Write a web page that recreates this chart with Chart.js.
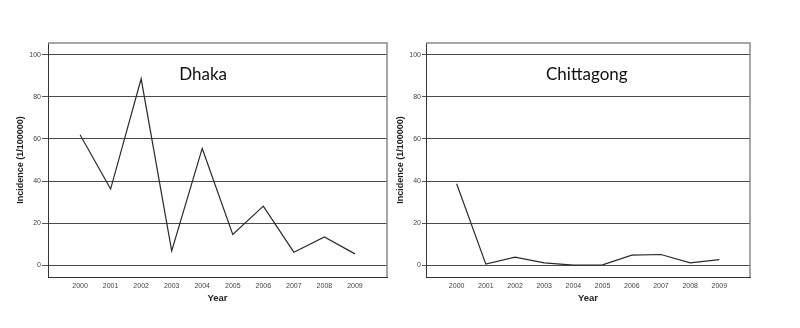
<!DOCTYPE html>
<html>
<head>
<meta charset="utf-8">
<script src="https://cdn.jsdelivr.net/npm/chart.js@4.4.1/dist/chart.umd.min.js"></script>
<style>
  body { margin: 0; background: #fff; width: 800px; height: 328px; position: relative; overflow: hidden; }
  canvas { position: absolute; top: 0; }
  #dhakaChart { left: 0; }
  #chittagongChart { left: 385px; }
</style>
</head>
<body>
<canvas id="dhakaChart" width="400" height="328"></canvas>
<canvas id="chittagongChart" width="415" height="328"></canvas>
<script>
const years = [2000, 2001, 2002, 2003, 2004, 2005, 2006, 2007, 2008, 2009];
const dhaka = [62, 36.2, 88.6, 6.8, 55.5, 14.6, 28.1, 6.2, 13.4, 5.4];
const chittagong = [38.7, 0.5, 3.8, 1.1, 0, 0.2, 4.8, 5.1, 1.1, 2.7];
const yTicks = [0, 20, 40, 60, 80, 100];

// label position inside the plot, in data units
const dhakaLabel = { text: 'Dhaka', x: 2004.03, y: 90.6 };
const chittagongLabel = { text: 'Chittagong', x: 2004.46, y: 90.4 };

const frame = {
    id: 'frame',
    afterDraw(chart, args, opts) {
        const { ctx, chartArea: a, scales } = chart;
        ctx.save();
        ctx.strokeStyle = '#8a8a8a';
        ctx.lineWidth = 1.5;
        ctx.beginPath();
        ctx.moveTo(a.left, a.top);
        ctx.lineTo(a.right, a.top);
        ctx.lineTo(a.right, a.bottom);
        ctx.stroke();
        ctx.fillStyle = '#111';
        ctx.font = '17px Lato';
        ctx.textAlign = 'center';
        ctx.textBaseline = 'middle';
        ctx.fillText(opts.text, scales.x.getPixelForValue(opts.x), scales.y.getPixelForValue(opts.y));
        ctx.restore();
    }
};

function makeChart(id, values, label, lay) {
    const ctx = document.getElementById(id).getContext('2d');
    return new Chart(ctx, {
        type: 'line',
        data: {
            datasets: [{
                data: years.map((y, i) => ({ x: y, y: values[i] })),
                borderColor: '#2a2a2a',
                borderWidth: 1.2,
                pointRadius: 0,
                tension: 0
            }]
        },
        options: {
            responsive: false,
            animation: false,
            layout: { padding: { top: 43, right: lay.right, left: 0, bottom: 21 } },
            plugins: { legend: { display: false }, tooltip: { enabled: false }, frame: label },
            scales: {
                x: {
                    type: 'linear',
                    min: 1998.95,
                    max: 2010.05,
                    afterBuildTicks: s => { s.ticks = years.map(v => ({ value: v })); },
                    afterFit: s => { s.height = 30; },
                    grid: { display: false, drawTicks: false },
                    border: { display: true, color: '#333', width: 1 },
                    ticks: {
                        callback: v => String(v),
                        font: { family: 'Liberation Sans', size: 7 },
                        color: '#444',
                        padding: 5,
                        maxRotation: 0,
                        autoSkip: false
                    },
                    title: {
                        display: true,
                        text: 'Year',
                        font: { family: 'Liberation Sans', size: 9.5, weight: 'bold' },
                        color: '#222',
                        padding: { top: 0, bottom: 3 }
                    }
                },
                y: {
                    min: -5.6,
                    max: 105.6,
                    afterBuildTicks: s => { s.ticks = yTicks.map(v => ({ value: v })); },
                    afterFit: s => { s.width = lay.yWidth; },
                    grid: { color: '#4a4a4a', lineWidth: 1, tickLength: lay.tick, tickColor: '#555' },
                    border: { display: true, color: '#333', width: 1 },
                    ticks: {
                        font: { family: 'Liberation Sans', size: 7 },
                        color: '#444',
                        padding: 1
                    },
                    title: {
                        display: true,
                        text: 'Incidence (1/100000)',
                        font: { family: 'Liberation Sans', size: 9, weight: 'bold' },
                        color: '#222',
                        padding: { top: lay.titlePad, bottom: 0 }
                    }
                }
            }
        },
        plugins: [frame]
    });
}

makeChart('dhakaChart', dhaka, dhakaLabel, { right: 13, yWidth: 48, tick: 6, titlePad: 15.5 });
makeChart('chittagongChart', chittagong, chittagongLabel, { right: 50, yWidth: 41, tick: 4, titlePad: 10.5 });
</script>
</body>
</html>
